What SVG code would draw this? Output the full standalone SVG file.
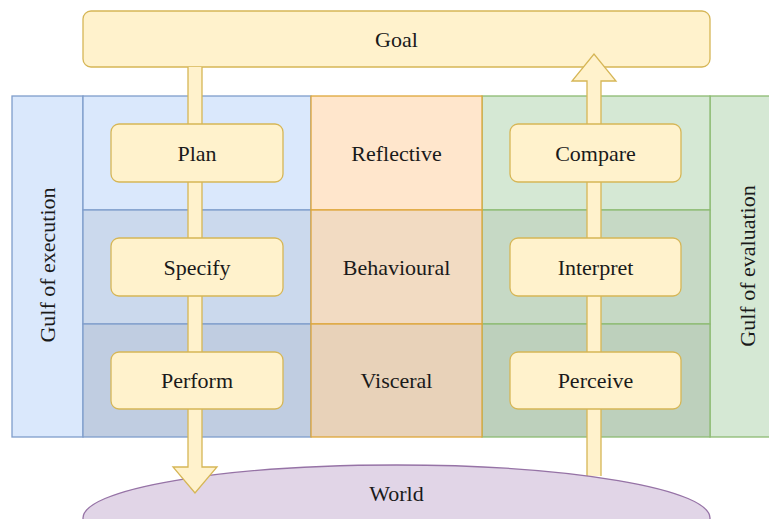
<svg xmlns="http://www.w3.org/2000/svg" width="769" height="519" viewBox="0 0 769 519">
<style>
text{font-family:"Liberation Serif","Times New Roman",serif;font-size:22px;fill:#1a1a1a;text-anchor:middle}
.y{fill:#fff2cc;stroke:#d6b656;stroke-width:1.3}
.b{stroke:#7f9dcb;stroke-width:1.3}
.o{stroke:#dda73a;stroke-width:1.3}
.g{stroke:#8dba72;stroke-width:1.3}
</style>
<rect width="769" height="519" fill="#ffffff"/>
<g id="gulf-execution">
<rect class="b" x="12" y="96" width="71" height="341" fill="#dae8fc"/>
<text transform="translate(55 265) rotate(-90)">Gulf of execution</text>
</g>
<g id="gulf-evaluation">
<rect class="g" x="710" y="96" width="71" height="341" fill="#d5e8d4"/>
<text transform="translate(755 266) rotate(-90)">Gulf of evaluation</text>
</g>
<g id="exec-rows">
<rect class="b" x="83" y="96" width="228" height="114" fill="#dae8fc"/>
<rect class="b" x="83" y="210" width="228" height="114" fill="#cbd9ed"/>
<rect class="b" x="83" y="324" width="228" height="113" fill="#c0cde1"/>
</g>
<g id="eval-rows">
<rect class="g" x="482" y="96" width="228" height="114" fill="#d5e8d4"/>
<rect class="g" x="482" y="210" width="228" height="114" fill="#c6d9c5"/>
<rect class="g" x="482" y="324" width="228" height="113" fill="#bdd0bc"/>
</g>
<g id="reflective">
<rect class="o" x="311" y="96" width="171" height="114" fill="#ffe6cc"/>
<text x="396.5" y="161">Reflective</text>
</g>
<g id="behavioural">
<rect class="o" x="311" y="210" width="171" height="114" fill="#f2dbc2"/>
<text x="396.5" y="275">Behavioural</text>
</g>
<g id="visceral">
<rect class="o" x="311" y="324" width="171" height="113" fill="#e8d2b9"/>
<text x="396.5" y="388">Visceral</text>
</g>
<g id="goal">
<rect class="y" x="83" y="11" width="627" height="56" rx="8"/>
<text x="396.5" y="47">Goal</text>
</g>
<g id="connectors">
<path d="M587 476 L587 81 L572 81 L594 54 L616 81 L601 81 L601 476 Z" fill="#fff2cc"/>
<path d="M587 476 L587 81 L572 81 L594 54 L616 81 L601 81 L601 476" fill="none" stroke="#d6b656" stroke-width="1.3"/>
</g>
<g id="world">
<ellipse cx="396.5" cy="518" rx="313.5" ry="53" fill="#e1d5e7" stroke="#9673a6" stroke-width="1.3"/>
<text x="396.5" y="501">World</text>
</g>
<g id="connectors-exec">
<path d="M188 67 L188 467 L173 467 L195 493 L217 467 L202 467 L202 67 Z" fill="#fff2cc"/>
<path d="M188 67 L188 467 L173 467 L195 493 L217 467 L202 467 L202 67" fill="none" stroke="#d6b656" stroke-width="1.3"/>
</g>
<g id="plan"><rect class="y" x="111" y="124" width="172" height="58" rx="8"/><text x="197" y="161">Plan</text></g>
<g id="specify"><rect class="y" x="111" y="238" width="172" height="58" rx="8"/><text x="197" y="275">Specify</text></g>
<g id="perform"><rect class="y" x="111" y="352" width="172" height="57" rx="8"/><text x="197" y="388">Perform</text></g>
<g id="compare"><rect class="y" x="510" y="124" width="171" height="58" rx="8"/><text x="595.5" y="161">Compare</text></g>
<g id="interpret"><rect class="y" x="510" y="238" width="171" height="58" rx="8"/><text x="595.5" y="275">Interpret</text></g>
<g id="perceive"><rect class="y" x="510" y="352" width="171" height="57" rx="8"/><text x="595.5" y="388">Perceive</text></g>
</svg>
